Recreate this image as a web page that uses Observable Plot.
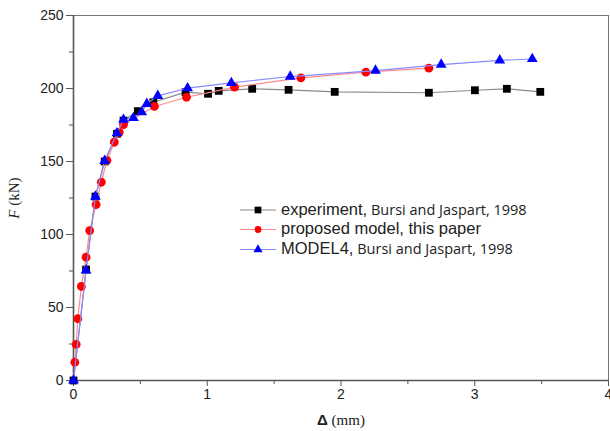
<!DOCTYPE html>
<html><head><meta charset="utf-8">
<script src="https://cdn.jsdelivr.net/npm/d3@7"></script>
<script src="https://cdn.jsdelivr.net/npm/@observablehq/plot@0.6"></script>
<style>body{margin:0;background:#fff;} svg{display:block;}</style>
</head><body><div id="chart"></div>
<script>
// experiment, Bursi and Jaspart, 1998
const expDelta = [0, 0.094, 0.164, 0.233, 0.325, 0.374, 0.481, 0.597, 0.838, 1.006, 1.086, 1.336, 1.608, 1.953, 2.657, 3.001, 3.24, 3.49];
const expForce = [0, 76, 126, 150, 169, 178, 184.5, 190.6, 197.5, 196.4, 198.4, 199.8, 199.1, 197.7, 197.1, 198.8, 199.8, 197.7];
// proposed model, this paper
const redDelta = [0.01, 0.02, 0.032, 0.059, 0.094, 0.121, 0.169, 0.208, 0.25, 0.305, 0.342, 0.374, 0.605, 0.845, 1.204, 1.70, 2.186, 2.657];
const redForce = [12.5, 24.7, 42.3, 64.4, 84.5, 102.7, 120.5, 135.8, 150.7, 163.2, 170, 175.3, 187.7, 194, 200.9, 207.3, 211.2, 213.9];
// MODEL4, Bursi and Jaspart, 1998
const blueDelta = [0, 0.094, 0.164, 0.233, 0.325, 0.374, 0.448, 0.51, 0.548, 0.63, 0.853, 1.18, 1.62, 2.258, 2.749, 3.187, 3.43];
const blueForce = [0, 75.5, 126, 150.5, 169.4, 178.6, 179.9, 183.8, 189.5, 195, 200.2, 203.8, 208.2, 212.3, 216.4, 219.3, 220.2];

const xMajor = [0, 1, 2, 3, 4];
const xMinor = [0.5, 1.5, 2.5, 3.5];
const yMajor = [0, 50, 100, 150, 200, 250];
const yMinor = [25, 75, 125, 175, 225];

const seriesNames = ["experiment,", "proposed model, this paper", "MODEL4,"];
const seriesSuffix = [" Bursi and Jaspart, 1998", "", " Bursi and Jaspart, 1998"];

const exp = expDelta.map((d, i) => ({d, f: expForce[i]}));
const red = redDelta.map((d, i) => ({d, f: redForce[i]}));
const blue = blueDelta.map((d, i) => ({d, f: blueForce[i]}));

const FONT = "'Liberation Sans', Arial, sans-serif";
const chart = Plot.plot({
  width: 610, height: 431,
  marginLeft: 73, marginRight: 2, marginTop: 15, marginBottom: 51,
  style: {fontFamily: FONT, fontSize: "14px", color: "#222", background: "#fff"},
  x: {domain: [0, 4], label: null},
  y: {domain: [0, 250], label: null},
  marks: [
    Plot.frame({stroke: "#777", strokeWidth: 1}),
    Plot.axisX(xMinor, {tickSize: 4, text: null, stroke: "#555"}),
    Plot.axisX(xMajor, {tickSize: 6, tickPadding: 3, fontSize: 14, stroke: "#555", fill: "#222", tickFormat: d3.format("d")}),
    Plot.axisY(yMinor, {tickSize: 4, text: null, stroke: "#555"}),
    Plot.axisY(yMajor, {tickSize: 7, tickPadding: 3, fontSize: 14, stroke: "#555", fill: "#222", tickFormat: d3.format("d")}),
    Plot.ruleX([0], {stroke: "#555", strokeWidth: 1.6}),
    Plot.ruleY([0], {stroke: "#555", strokeWidth: 1.6}),
    Plot.line(exp, {x: "d", y: "f", stroke: "#8a8a8a", strokeWidth: 1.2}),
    Plot.dot(exp, {x: "d", y: "f", symbol: "square", r: 4.4, fill: "#000", stroke: "none"}),
    Plot.line(red, {x: "d", y: "f", stroke: "#ff8a8a", strokeWidth: 1.2}),
    Plot.dot(red, {x: "d", y: "f", symbol: "circle", r: 4.4, fill: "#ff0000", stroke: "none"}),
    Plot.line(blue, {x: "d", y: "f", stroke: "#8a8aff", strokeWidth: 1.2}),
    Plot.dot(blue, {x: "d", y: "f", symbol: "triangle", r: 4, fill: "#0000ff", stroke: "none"})
  ]
});
document.getElementById("chart").appendChild(chart);

const svg = d3.select(chart);
// axis titles
const xl = svg.append("text").attr("x", 341).attr("y", 425).attr("text-anchor", "middle").attr("fill", "#222");
xl.append("tspan").attr("font-family", FONT).attr("font-weight", "bold").attr("font-size", 15).text("Δ");
xl.append("tspan").attr("font-family", "'Liberation Serif', 'Times New Roman', serif").attr("font-size", 15).text(" (mm)");
const yl = svg.append("text").attr("transform", "translate(19,198) rotate(-90)").attr("text-anchor", "middle").attr("fill", "#222");
yl.append("tspan").attr("font-family", "'Liberation Serif', 'Times New Roman', serif").attr("font-style", "italic").attr("font-size", 15).text("F");
yl.append("tspan").attr("font-family", "'Liberation Serif', 'Times New Roman', serif").attr("font-size", 15).text(" (kN)");

// legend
const lgColors = [["#8a8a8a", "#000", d3.symbolSquare, 3.8], ["#ff8a8a", "#ff0000", d3.symbolCircle, 3.4], ["#8a8aff", "#0000ff", d3.symbolTriangle, 3.4]];
const rowsY = [210, 229.5, 249.5];
const lg = svg.append("g").attr("text-anchor", "start");
seriesNames.forEach((name, i) => {
  const [lc, mc, sym, r] = lgColors[i];
  const y = rowsY[i];
  lg.append("line").attr("x1", 240).attr("x2", 276).attr("y1", y).attr("y2", y).attr("stroke", lc).attr("stroke-width", 1.2);
  lg.append("path").attr("transform", `translate(258,${y})`).attr("d", d3.symbol(sym, Math.PI * r * r)()).attr("fill", mc);
  const t = lg.append("text").attr("x", 281).attr("y", y).attr("dy", "0.35em").attr("text-anchor", "start").attr("fill", "#222");
  t.append("tspan").attr("font-family", FONT).attr("font-size", 16.5).text(name);
  if (seriesSuffix[i]) t.append("tspan").attr("font-family", "'Open Sans', sans-serif").attr("font-size", 14.5).text(seriesSuffix[i]);
});
</script>
</body></html>
